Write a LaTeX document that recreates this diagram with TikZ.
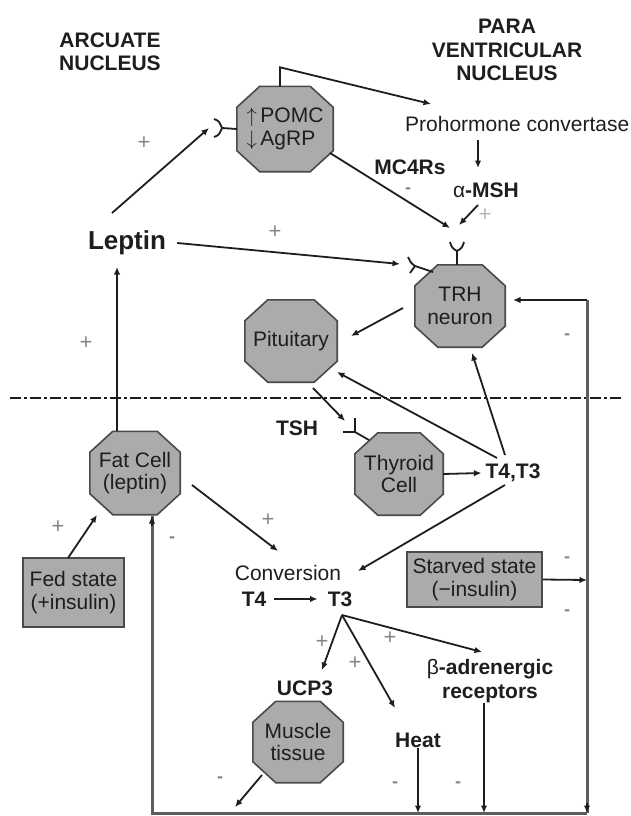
\documentclass[tikz,border=0pt]{standalone}
\usepackage{fontspec}
\setmainfont{Liberation Sans}
\usetikzlibrary{arrows.meta,backgrounds}
\definecolor{octfill}{HTML}{ABABAB}
\definecolor{octline}{HTML}{4A4A4A}
\definecolor{ink}{HTML}{1E1E1E}
\definecolor{signgray}{HTML}{858585}
\definecolor{loopgray}{HTML}{5E5E5E}
\begin{document}
\begin{tikzpicture}[x=1pt,y=-1pt,
  txt/.style={font=\fontsize{21}{23}\selectfont, inner sep=0pt, align=center, text=ink},
  btxt/.style={font=\fontsize{21}{23.5}\selectfont\bfseries, inner sep=0pt, align=center, text=ink},
  oct/.style={rectangle, minimum width=90pt, minimum height=82pt,
    inner sep=0pt, font=\fontsize{21}{22.5}\selectfont, align=center, text=ink},
  octshape/.style={fill=octfill, draw=octline, line width=1.6pt, line join=miter},
  sbox/.style={rectangle, fill=octfill, draw=octline, line width=1.6pt, inner sep=0pt,
    font=\fontsize{21}{22.5}\selectfont, align=center, text=ink},
  arr/.style={draw=ink, line width=1.8pt, -{Latex[length=7.5pt,width=6.5pt]}},
  ln/.style={draw=ink, line width=1.8pt},
  loopln/.style={draw=loopgray, line width=3pt},
  plus/.style={font=\fontsize{22}{22}\selectfont, text=signgray, inner sep=0pt},
  minus/.style={font=\fontsize{18}{18}\selectfont\bfseries, text=signgray, inner sep=0pt}
]
\useasboundingbox (0,0) rectangle (631,816);

% headers
\node[btxt] (arc) at (110,52) {ARCUATE\\NUCLEUS};
\node[btxt] (pvn) at (507,50) {PARA\\VENTRICULAR\\NUCLEUS};

% shapes (text holders; octagon outlines drawn on background)
\node[oct, align=left, minimum width=96pt, minimum height=85pt] (pomc) at (285,129) {$\uparrow$\,POMC\\$\downarrow$\,AgRP};
\node[oct] (trh) at (460,306) {TRH\\neuron};
\node[oct, minimum width=92pt] (pit) at (291,341) {Pituitary};
\node[oct, minimum width=88pt] (thy) at (399,474) {Thyroid\\Cell};
\node[oct, minimum height=83pt] (fat) at (135,473) {Fat Cell\\(leptin)};
\node[oct, minimum height=81pt] (mus) at (298,742) {Muscle\\tissue};
\node[sbox, minimum width=101pt, minimum height=69pt] (fed) at (73.5,592.5) {Fed state\\(+insulin)};
\node[sbox, minimum width=135pt, minimum height=55pt] (starv) at (474.5,579.5) {Starved state\\(−insulin)};

\begin{pgfonlayer}{background}
\foreach \n in {pomc,trh,pit,thy,fat,mus}{
  \path[octshape] ([xshift=23pt]\n.north west) -- ([xshift=-23pt]\n.north east)
    -- ([yshift=-21pt]\n.north east) -- ([yshift=21pt]\n.south east)
    -- ([xshift=-23pt]\n.south east) -- ([xshift=23pt]\n.south west)
    -- ([yshift=21pt]\n.south west) -- ([yshift=-21pt]\n.north west) -- cycle;
}
\end{pgfonlayer}

% texts
\node[txt, anchor=west] (pc) at (405,124) {Prohormone convertase};
\node[btxt] (mc4) at (410,167) {MC4Rs};
\node[btxt] (amsh) at (486,190) {{\mdseries α}-MSH};
\node[btxt, font=\fontsize{26}{28}\selectfont\bfseries] (lep) at (127,243) {Leptin};
\node[btxt] (tsh) at (297,428) {TSH};
\node[btxt] (t4t3) at (513,473) {T4,T3};
\node[txt] (conv) at (288,573) {Conversion};
\node[btxt] (t4) at (254,599) {T4};
\node[btxt] (t3) at (340,599) {T3};
\node[btxt] (ucp) at (305,688) {UCP3};
\node[btxt] (heat) at (418,740) {Heat};
\node[btxt] (beta) at (490,681) {{\mdseries β}-adrenergic\\receptors};

% signs
\node[plus] (p1) at (144,143) {+};
\node[plus] (p2) at (275,232) {+};
\node[plus, text=signgray!60] (p3) at (485,215) {+};
\node[plus] (p4) at (86,343) {+};
\node[plus] (p5) at (58,527) {+};
\node[plus] (p6) at (268,520) {+};
\node[plus] (p7) at (322,642) {+};
\node[plus] (p8) at (355,663) {+};
\node[plus] (p9) at (390,638) {+};
\node[minus] (m1) at (408,191) {-};
\node[minus] (m2) at (567,337) {-};
\node[minus] (m3) at (172,540) {-};
\node[minus] (m4) at (567,560) {-};
\node[minus] (m5) at (567,613) {-};
\node[minus] (m6) at (220,780) {-};
\node[minus] (m7) at (395,785) {-};
\node[minus] (m8) at (458,785) {-};

% divider
\draw[line width=1.8pt, ink, dash pattern=on 11pt off 3pt on 3pt off 3pt] (10,398) -- (622,398);

% named free ends
\coordinate (rP) at (222,128);
\coordinate (rPtip) at (209,128);
\coordinate (pcIn) at (431,104);
\coordinate (msA) at (478,140);
\coordinate (msB) at (478,168);
\coordinate (pomcOut) at (330,153);
\coordinate (mcIn) at (450,228);
\coordinate (amA) at (478,205);
\coordinate (amB) at (459,225);
\coordinate (rT) at (457,251);
\coordinate (trhTop) at (457,265);
\coordinate (rL) at (415,266);
\coordinate (trhUL) at (433,272);
\coordinate (rLtip) at (400,264);
\coordinate (trhA) at (403,308);
\coordinate (pitIn) at (351,336);
\coordinate (rv) at (587,580);
\coordinate (rvTop) at (587,300);
\coordinate (trhIn) at (513,300);
\coordinate (bR) at (587,813);
\coordinate (bL) at (152,813);
\coordinate (fatIn) at (152,516);
\coordinate (musOut0) at (262,775);
\coordinate (musOut) at (235,807);
\coordinate (fatA) at (192,485);
\coordinate (convIn) at (278,551);
\coordinate (pitA) at (313,388);
\coordinate (tshIn) at (345,421);
\coordinate (rTh) at (355,432);
\coordinate (thyUL) at (369,440);
\coordinate (t4A) at (497,458);
\coordinate (pitIn2) at (337,372);
\coordinate (t4B) at (505,455);
\coordinate (trhIn2) at (472,353);
\coordinate (t4C) at (505,485);
\coordinate (convIn2) at (358,571);
\coordinate (t3o) at (342,615);
\coordinate (ucpIn) at (322,670);
\coordinate (heatIn) at (395,708);
\coordinate (betaIn) at (482,652);
\coordinate (lepIn) at (117,267);
\coordinate (fedOut) at (68,558);
\coordinate (fatIn2) at (97,515);

% receptors
\draw[ln] (pomc.west) -- (rP);
\draw[ln] (214,119) .. controls (219,121) .. (rP) .. controls (219,135) .. (214,137);
\draw[ln] (trhTop) -- (rT);
\draw[ln] (450,242) .. controls (452,248) .. (rT) .. controls (462,248) .. (464,242);
\draw[ln] (trhUL) -- (rL);
\draw[ln] (408,257) .. controls (411,263) .. (rL) .. controls (412,270) .. (410,273);
\draw[ln] (343,432) -- (rTh) -- (355,418);
\draw[ln] (rTh) -- (thyUL);

% connectors
\draw[arr] ([shift={(-15,-30)}]lep.center) -- (rPtip);
\draw[arr] ([xshift=-5pt]pomc.north) -- ++(0,-19) -- (pcIn);
\draw[arr] (msA) -- (msB);
\draw[arr] (pomcOut) -- (mcIn);
\draw[arr] (amA) -- (amB);
\draw[arr] ([xshift=11pt]lep.east) -- (rLtip);
\draw[arr] (trhA) -- (pitIn);
\draw[arr] (starv.east) -- (rv);
\draw[loopln] (rv) -- (rvTop);
\draw[arr] (rvTop) -- (trhIn);
\draw[loopln] (rv) -- (bR);
\draw[loopln] (bR) -- (bL) -- (fatIn);
\draw[arr] ([yshift=-10pt]fatIn) -- (fatIn);
\draw[arr] ([yshift=10pt]bR) -- (bR);
\draw[arr] (musOut0) -- (musOut);
\draw[arr] (heat.south) -- (heat.south |- bL);
\draw[arr] ([xshift=-6pt]beta.south) -- ([xshift=-6pt]beta.south |- bL);
\draw[arr] ([xshift=-18pt]fat.north) -- (lepIn);
\draw[arr] (fedOut) -- (fatIn2);
\draw[arr] (fatA) -- (convIn);
\draw[arr] (pitA) -- (tshIn);
\draw[arr] (thy.east) -- ([xshift=-4pt]t4t3.west);
\draw[arr] (t4A) -- (pitIn2);
\draw[arr] (t4B) -- (trhIn2);
\draw[arr] (t4C) -- (convIn2);
\draw[arr] ([xshift=8pt]t4.east) -- ([xshift=-10pt]t3.west);
\draw[arr] (t3o) -- (ucpIn);
\draw[arr] (t3o) -- (heatIn);
\draw[arr] (t3o) -- (betaIn);
\end{tikzpicture}
\end{document}
